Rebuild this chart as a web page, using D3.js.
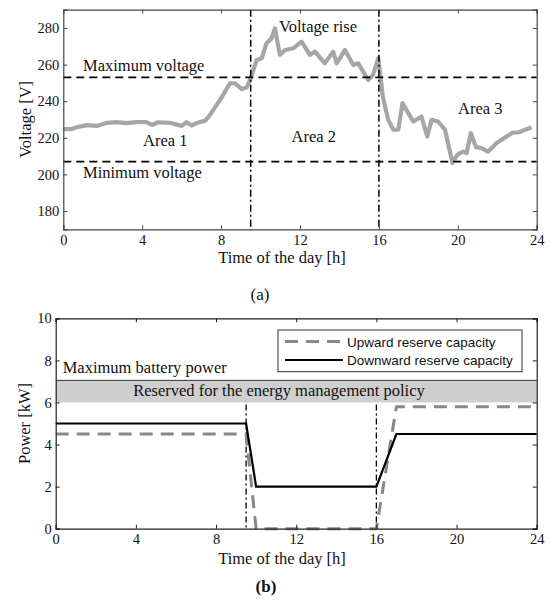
<!DOCTYPE html>
<html>
<head>
<meta charset="utf-8">
<script src="https://cdn.jsdelivr.net/npm/d3@7"></script>
<style>
  body { margin: 0; background: #fff; }
  svg text { font-family: "Liberation Serif", "DejaVu Serif", serif; fill: #111; }
  .legend text { font-family: "Liberation Sans", Arial, sans-serif; }
</style>
</head>
<body>
<svg id="fig" width="553" height="606"></svg>
<script>
// ---- data ----
const hours = [0,0.4,0.75,1.2,1.7,2.2,2.7,3.2,3.7,4.2,4.5,4.8,5.4,6.0,6.25,6.5,6.85,7.2,7.4,7.95,
  8.45,8.7,9.05,9.3,9.5,9.8,10.06,10.3,10.56,10.73,10.98,11.24,11.66,12.08,12.5,12.76,13.26,13.68,
  13.86,14.28,14.7,14.95,15.46,15.7,15.97,16.2,16.47,16.73,16.98,17.2,17.49,17.74,18.16,18.45,18.67,
  19.0,19.35,19.73,19.97,20.27,20.45,20.66,20.92,21.2,21.54,21.97,22.47,22.8,23.06,23.74];
const volts = [224.7,224.7,226,226.9,226.5,228.2,228.6,228,228.6,228.6,227,228.5,228.2,226.5,228.5,
  226.7,228.4,229.4,232,240.7,249.8,249.8,246.6,247.6,252.5,262.5,263.5,271.6,274.4,279.8,265.3,268,
  268.9,272.5,265.3,267.1,260.7,267.1,260.7,268,259.8,260.7,251.6,254.4,263.5,242.5,229.8,224.4,
  224.4,238.9,233.5,228.9,231.6,220.7,229.8,228.9,224.4,206.2,210.7,212.5,211.6,222.6,214.9,214.4,
  212.5,217.1,220.7,222.9,222.9,225.8];
const maxVoltage = 253;
const minVoltage = 207;
const areaBounds = [9.5, 16];

const timeTicks = [0, 4, 8, 12, 16, 20, 24];
const voltTicks = [180, 200, 220, 240, 260, 280];
const powerTicks = [0, 2, 4, 6, 8, 10];

const upwardT = [0, 9.5, 10, 16, 17, 24];
const upwardP = [4.5, 4.5, 0, 0, 5.8, 5.8];
const downwardT = [0, 9.5, 10, 16, 17, 24];
const downwardP = [5, 5, 2, 2, 4.5, 4.5];
const reservedBand = [6, 7.05];

const svg = d3.select("#fig");

function frame(g, x, y, xt, yt, color) {
  const [x0, x1] = x.range();
  const [y0, y1] = y.range();
  g.append("g").attr("transform", `translate(0,${y0})`)
    .call(d3.axisBottom(x).tickValues(xt).tickSize(-4).tickPadding(5).tickFormat(d3.format("d")));
  g.append("g").attr("transform", `translate(0,${y1})`)
    .call(d3.axisTop(x).tickValues(xt).tickSize(-4).tickFormat(""));
  g.append("g").attr("transform", `translate(${x0},0)`)
    .call(d3.axisLeft(y).tickValues(yt).tickSize(-4).tickPadding(4).tickFormat(d3.format("d")));
  g.append("g").attr("transform", `translate(${x1},0)`)
    .call(d3.axisRight(y).tickValues(yt).tickSize(-4).tickFormat(""));
  g.selectAll(".domain").attr("stroke", color).attr("stroke-width", 1.2);
  g.selectAll(".tick line").attr("stroke", color);
  g.selectAll(".tick text").attr("font-size", 14.5)
    .attr("font-family", "Liberation Serif").attr("fill", "#222");
}

// ================= (a) voltage =================
const xA = d3.scaleLinear().domain([0, 24]).range([63.3, 536.7]);
const yA = d3.scaleLinear().domain([170, 290]).range([229.3, 9.7]);
const gA = svg.append("g");

gA.append("path")
  .datum(hours.map((h, i) => [h, volts[i]]))
  .attr("fill", "none").attr("stroke", "#a6a6a6").attr("stroke-width", 4.2)
  .attr("stroke-linejoin", "round")
  .attr("d", d3.line().x(d => xA(d[0])).y(d => yA(d[1])));

[maxVoltage, minVoltage].forEach(v => {
  gA.append("line")
    .attr("x1", xA(0)).attr("x2", xA(24)).attr("y1", yA(v)).attr("y2", yA(v))
    .attr("stroke", "#000").attr("stroke-width", 1.8).attr("stroke-dasharray", "8,5");
});
areaBounds.forEach(t => {
  gA.append("line")
    .attr("x1", xA(t)).attr("x2", xA(t)).attr("y1", yA(290)).attr("y2", yA(170))
    .attr("stroke", "#000").attr("stroke-width", 1.5).attr("stroke-dasharray", "7,3,2,3");
});

frame(gA, xA, yA, timeTicks, voltTicks, "#444");

const labA = [
  ["Maximum voltage", 83, 70.7],
  ["Minimum voltage", 83, 178.3],
  ["Area 1", 143, 146],
  ["Area 2", 291.5, 141.7],
  ["Area 3", 458, 114.3],
  ["Voltage rise", 279, 31.7]
];
labA.forEach(d => gA.append("text").attr("x", d[1]).attr("y", d[2])
  .attr("font-size", 16.5).text(d[0]));

gA.append("text").attr("x", 282).attr("y", 263).attr("text-anchor", "middle")
  .attr("font-size", 16.5).text("Time of the day [h]");
gA.append("text").attr("transform", "translate(31,119.5) rotate(-90)")
  .attr("text-anchor", "middle").attr("font-size", 16.5).text("Voltage [V]");
svg.append("text").attr("x", 260).attr("y", 300).attr("text-anchor", "middle")
  .attr("font-size", 17).text("(a)");

// ================= (b) power =================
const xB = d3.scaleLinear().domain([0, 24]).range([55.7, 536.7]);
const yB = d3.scaleLinear().domain([0, 10]).range([528.7, 318.3]);
const gB = svg.append("g");

gB.append("rect")
  .attr("x", xB(0)).attr("width", xB(24) - xB(0))
  .attr("y", yB(reservedBand[1])).attr("height", yB(reservedBand[0]) - yB(reservedBand[1]))
  .attr("fill", "#cfcfcf");
gB.append("line")
  .attr("x1", xB(0)).attr("x2", xB(24)).attr("y1", yB(reservedBand[1])).attr("y2", yB(reservedBand[1]))
  .attr("stroke", "#333").attr("stroke-width", 1);

areaBounds.forEach(t => {
  gB.append("line")
    .attr("x1", xB(t)).attr("x2", xB(t)).attr("y1", yB(5.9)).attr("y2", yB(0))
    .attr("stroke", "#000").attr("stroke-width", 1.3).attr("stroke-dasharray", "6,3,2,3");
});

const lineB = d3.line().x(d => xB(d[0])).y(d => yB(d[1]));
gB.append("path")
  .datum(upwardT.map((t, i) => [t, upwardP[i]]))
  .attr("fill", "none").attr("stroke", "#888").attr("stroke-width", 3)
  .attr("stroke-dasharray", "13,8").attr("stroke-linejoin", "round")
  .attr("d", lineB);
gB.append("path")
  .datum(downwardT.map((t, i) => [t, downwardP[i]]))
  .attr("fill", "none").attr("stroke", "#000").attr("stroke-width", 2.2)
  .attr("d", lineB);

frame(gB, xB, yB, timeTicks, powerTicks, "#222");

gB.append("text").attr("x", 62.7).attr("y", 373.3).attr("font-size", 16.5)
  .text("Maximum battery power");
gB.append("text").attr("x", 279).attr("y", 396).attr("text-anchor", "middle")
  .attr("font-size", 16.5).text("Reserved for the energy management policy");

// legend
const lg = gB.append("g").attr("class", "legend");
lg.append("rect").attr("x", 278).attr("y", 330).attr("width", 244).attr("height", 41.7)
  .attr("fill", "#fff").attr("stroke", "#333").attr("stroke-width", 1);
lg.append("line").attr("x1", 285).attr("x2", 342).attr("y1", 341.5).attr("y2", 341.5)
  .attr("stroke", "#888").attr("stroke-width", 3).attr("stroke-dasharray", "13,8");
lg.append("line").attr("x1", 285).attr("x2", 343).attr("y1", 360).attr("y2", 360)
  .attr("stroke", "#000").attr("stroke-width", 2.2);
lg.append("text").attr("x", 347).attr("y", 346.5).attr("font-size", 13.5).text("Upward reserve capacity");
lg.append("text").attr("x", 347).attr("y", 365).attr("font-size", 13.5).text("Downward reserve capacity");

gB.append("text").attr("x", 282).attr("y", 564).attr("text-anchor", "middle")
  .attr("font-size", 16.5).text("Time of the day [h]");
gB.append("text").attr("transform", "translate(30,423.5) rotate(-90)")
  .attr("text-anchor", "middle").attr("font-size", 16.5).text("Power [kW]");
svg.append("text").attr("x", 266).attr("y", 592).attr("text-anchor", "middle")
  .attr("font-size", 17).attr("font-weight", "bold").text("(b)");
</script>
</body>
</html>
